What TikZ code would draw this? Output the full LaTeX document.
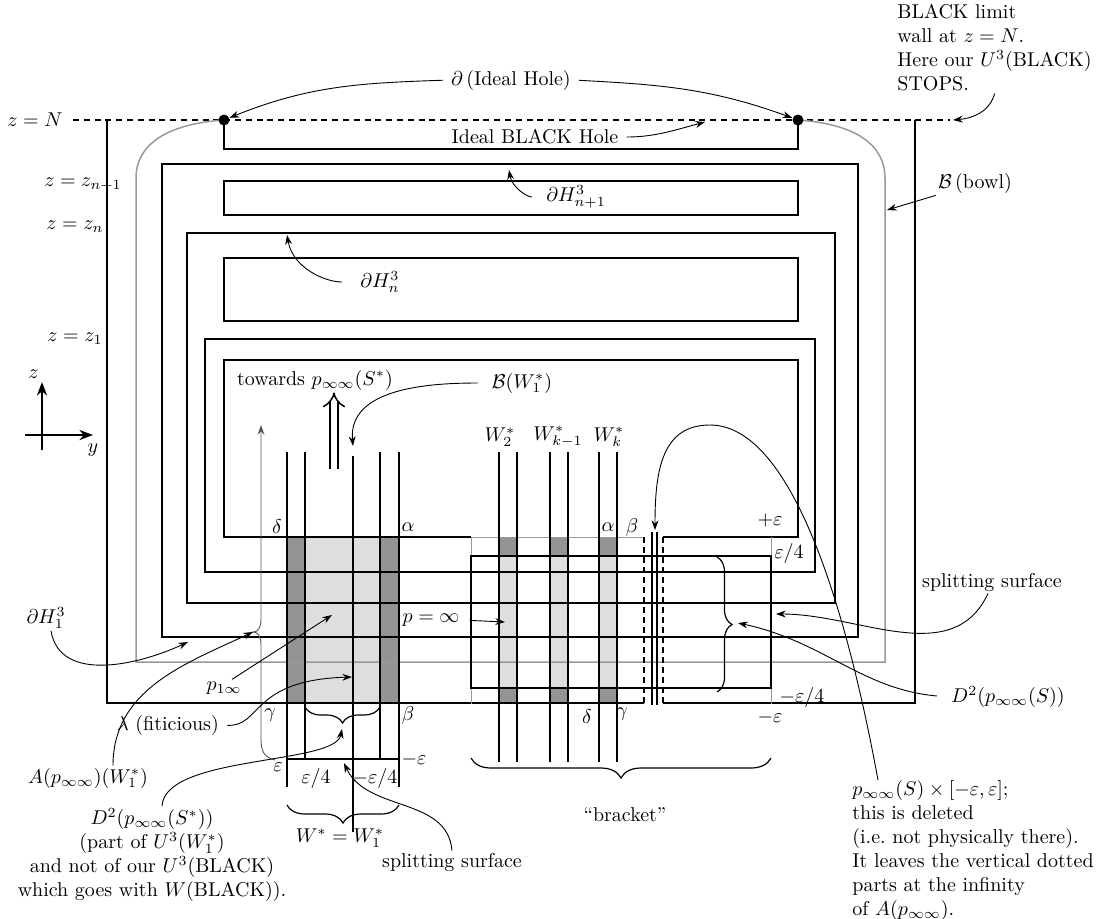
\documentclass[tikz,border=0pt]{standalone}
\usepackage{amsmath,amssymb}
\usetikzlibrary{arrows.meta,decorations.pathreplacing,calc}
\tikzset{
  wall/.style={line width=0.75pt},
  greywall/.style={line width=0.75pt, black!40},
  splitbox/.style={line width=1.3pt},
  limitline/.style={line width=0.75pt, dash pattern=on 3pt off 2.4pt},
  deadline/.style={line width=0.75pt, dash pattern=on 3pt off 2pt},
  callout/.style={-{Stealth[length=1.7mm,width=1.2mm]}, line width=0.45pt},
  axisarrow/.style={-{Stealth[length=2.4mm,width=1.8mm]}, line width=0.7pt},
  figlabel/.style={inner sep=1pt},
  darkband/.style={fill=black!42},
  lightband/.style={fill=black!13},
  hitpoint/.style={circle, fill, inner sep=0pt, minimum size=5.5pt},
  curly/.style={decorate, decoration={brace, amplitude=#1}, line width=0.6pt},
}

\begin{document}
\begin{tikzpicture}[x=0.5pt, y=-0.5pt]
  \useasboundingbox (0,0) rectangle (1100,918);
  % shaded strands
  \fill[lightband] (305,537) rectangle (380,703);
  \fill[darkband] (287,537) rectangle (305,703);
  \fill[darkband] (380,537) rectangle (399,703);
  \foreach \xa in {499,550,599}{
    \fill[darkband] (\xa,537) rectangle ++(18,19);
    \fill[lightband] (\xa,556) rectangle ++(18,132);
    \fill[darkband] (\xa,688) rectangle ++(18,16);
  }
  % limit wall z = N and the bowl
  \draw[limitline] (73,120) -- (950,120);
  \coordinate (wallend) at (953,120);
  \draw[greywall] (224,120) .. controls (166,124) and (136,145) .. (136,178) -- (136,662)
    -- (885,662) -- (885,178) .. controls (885,145) and (856,124) .. (798,120);
  % walls
  \draw[wall] (644,703) -- (107,703) -- (107,120);
  \draw[wall] (663,703) -- (915,703) -- (915,120);
  \draw[wall] (224,120) -- (224,149) -- (798,149) -- (798,120);
  \draw[wall] (162,164) rectangle (858,637);
  \draw[wall] (224,181) rectangle (798,215);
  \draw[wall] (187,233) rectangle (835,603);
  \draw[wall] (224,258) rectangle (798,321);
  \draw[wall] (205,339) rectangle (815,572);
  \draw[wall] (471,537) -- (224,537) -- (224,360) -- (798,360) -- (798,537) -- (663,537);
  % the bracket
  \draw[greywall, line width=0.5pt] (471,704) -- (471,537) -- (644,537) (771,537) -- (771,704);
  \draw[deadline] (644,537) -- (644,704) (663,537) -- (663,704);
  \draw[wall] (652,532) -- (652,705) (657,532) -- (657,705);
  \draw[splitbox] (471,556) rectangle (771,688);
  % strands
  \foreach \xa/\yb in {287/787,305/759,380/759,399/787}
    \draw[wall] (\xa,452) -- (\xa,\yb);
  \draw[wall] (353,456) -- (353,832);
  \draw[wall] (287,759) -- (399,759);
  \foreach \xa in {499,517,550,568,599,617}
    \draw[wall] (\xa,452) -- (\xa,762);
  % the brace on the left, with its arrow
  \coordinate (kink) at (253,632);
  \draw[callout, black!65] (275,760) .. controls (263,757) and (261,750) .. (261,738) -- (261,645)
    .. controls (261,636) and (258,632) .. (kink) .. controls (258,632) and (261,628) .. (261,619) -- (261,425);

  % axes
  \coordinate (axo) at (42,435);
  \draw[axisarrow] (42,450) -- (42,382) node[above left=-2pt] {$z$};
  \draw[axisarrow] (25,435) -- (93,435) node[below=1pt] {$y$};

  % levels
  \node[figlabel] (zN) at (35,120) {$z=N$};
  \node[figlabel] (zn1) at (83,185) {$z=z_{n+1}$};
  \node[figlabel] (zn) at (75,227) {$z=z_n$};
  \node[figlabel] (z1) at (75,339) {$z=z_1$};

  % top
  \node[hitpoint] (dotL) at (224,120) {};
  \node[hitpoint] (dotR) at (798,120) {};
  \node[figlabel] (idealbd) at (511,80) {$\partial\,$(Ideal Hole)};
  \draw[callout, shorten <=3pt] (idealbd.west) to[out=182, in=22] (dotL);
  \draw[callout, shorten <=3pt] (idealbd.east) to[out=-3, in=160] (dotR);
  \node[figlabel] (idealhole) at (535,137) {Ideal BLACK Hole};
  \coordinate (holept) at (705,122);
  \draw[callout, shorten <=3pt] (idealhole.east) to[out=0, in=195] (holept);
  \node[figlabel, align=left, anchor=north west] (limitwall) at (895,2)
    {BLACK limit\\wall at $z=N$.\\Here our $U^3$(BLACK)\\STOPS.};
  \draw[callout] (limitwall.south) to[out=-105, in=5] (wallend);
  \node[figlabel] (bowllbl) at (975,183) {$\mathcal{B}\,$(bowl)};
  \coordinate (bowlpt) at (887,210);
  \draw[callout] (bowllbl.south west) -- (bowlpt);
  \node[figlabel] (hnp1) at (576,197) {$\partial H^3_{n+1}$};
  \coordinate (hnp1pt) at (509,170);
  \draw[callout, shorten <=6pt] (hnp1.west) to[out=180, in=-80] (hnp1pt);
  \node[figlabel] (hn) at (380,282) {$\partial H^3_n$};
  \coordinate (hnpt) at (287,235);
  \draw[callout, shorten <=8pt] (hn.west) to[out=180, in=-80] (hnpt);

  % W region
  \node[figlabel] (towards) at (315,380) {towards $p_{\infty\infty}(S^*)$};
  \coordinate (dblfoot) at (334,469);
  \draw[wall, double distance=3.2pt, -{Implies}] (dblfoot) -- (dblfoot |- towards.south);
  \node[figlabel] (bw1) at (522,383) {$\mathcal{B}(W_1^*)$};
  \coordinate (bwpt) at (353,446);
  \draw[callout, shorten <=6pt] (bw1.west) to[out=180, in=95] (bwpt);
  \node[figlabel] (w2) at (500,437) {$W_2^*$};
  \node[figlabel] (wk1) at (558,437) {$W_{k-1}^*$};
  \node[figlabel] (wk) at (609,437) {$W_k^*$};

  % corner letters
  \node[figlabel] (deltaL) at (277,527) {$\delta$};
  \node[figlabel] (alphaL) at (408,527) {$\alpha$};
  \node[figlabel] (gammaL) at (270,715) {$\gamma$};
  \node[figlabel] (betaL) at (408,715) {$\beta$};
  \node[figlabel] (alphaR) at (608,527) {$\alpha$};
  \node[figlabel] (betaR) at (632,527) {$\beta$};
  \node[figlabel] (deltaR) at (587,717) {$\delta$};
  \node[figlabel] (gammaR) at (622,714) {$\gamma$};
  \node[figlabel] (epsL) at (278,767) {$\varepsilon$};
  \node[figlabel] (mepsL) at (414,759) {$-\varepsilon$};
  \node[figlabel] (qepsL) at (316,778) {$\varepsilon/4$};
  \node[figlabel] (mqepsL) at (375,778) {$-\varepsilon/4$};
  \node[figlabel] (pepsR) at (770,520) {$+\varepsilon$};
  \node[figlabel] (qepsR) at (789,553) {$\varepsilon/4$};
  \node[figlabel] (mqepsR) at (802,697) {$-\varepsilon/4$};
  \node[figlabel] (mepsR) at (770,717) {$-\varepsilon$};

  % braces
  \draw[curly=8pt] (380,707) -- (305,707);
  \coordinate (d2spt) at (342,729);
  \draw[curly=9pt] (399,805) -- (287,805);
  \node[figlabel] (wstar) at (340,838) {$W^*=W_1^*$};
  \draw[curly=10pt] (771,758) -- (471,758);
  \node[figlabel] (bracket) at (625,815) {``bracket''};
  \draw[curly=7.5pt] (717,557) -- (717,692);
  \coordinate (d2pt) at (738,623);

  % left labels
  \node[figlabel] (pinf) at (431,620) {$p=\infty$};
  \coordinate (pinfpt) at (505,622);
  \draw[callout, shorten <=4pt] (pinf.east) -- (pinfpt);
  \node[figlabel] (p1inf) at (224,688) {$p_{1\infty}$};
  \coordinate (p1pt) at (332,615);
  \draw[callout] ($(p1inf.north)+(8,0)$) -- (p1pt);
  \node[figlabel] (h1) at (46,618) {$\partial H^3_1$};
  \coordinate (h1pt) at (188,642);
  \draw[callout] ($(h1.south)+(5,0)$) to[out=-80, in=205] (h1pt);
  \node[figlabel] (lam) at (168,725) {$\lambda$ (fiticious)};
  \coordinate (lampt) at (352,677);
  \draw[callout, shorten <=3pt] (lam.east) .. controls (262,727) and (250,680) .. (lampt);
  \node[figlabel] (apw) at (88,778) {$A(p_{\infty\infty})(W_1^*)$};
  \draw[callout] ($(apw.north)+(25,0)$) to[out=90, in=205] (kink);
  \node[figlabel, align=center, anchor=north] (d2s) at (152,806)
    {$D^2(p_{\infty\infty}(S^*))$\\(part of $U^3(W_1^*)$\\and not of our $U^3$(BLACK)\\which goes with $W$(BLACK)).};
  \draw[callout] ($(d2s.north)+(10,0)$) .. controls (165,755) and (335,765) .. (d2spt);
  \node[figlabel] (split1) at (452,862) {splitting surface};
  \coordinate (splitpt1) at (344,763);
  \draw[callout] (split1.north) to[out=95, in=-65] (splitpt1);

  % right labels
  \node[figlabel] (split2) at (992,582) {splitting surface};
  \coordinate (splitpt2) at (776,614);
  \draw[callout] ($(split2.south)+(-4,0)$) to[out=-115, in=0] (splitpt2);
  \node[figlabel] (d2) at (1008,697) {$D^2(p_{\infty\infty}(S))$};
  \draw[callout, shorten <=6pt] (d2.west) to[out=175, in=-12] (d2pt);
  \node[figlabel, align=left, anchor=north west] (deleted) at (850,778)
    {$p_{\infty\infty}(S)\times[-\varepsilon,\varepsilon]$;\\this is deleted\\(i.e.\ not physically there).\\It leaves the vertical dotted\\parts at the infinity\\of $A(p_{\infty\infty})$.};
  \coordinate (delpt) at (655,530);
  \draw[callout] ($(deleted.north west)+(28,2)$) .. controls (845,600) and (790,425) .. (710,425)
    .. controls (662,425) and (655,470) .. (delpt);
\end{tikzpicture}
\end{document}
